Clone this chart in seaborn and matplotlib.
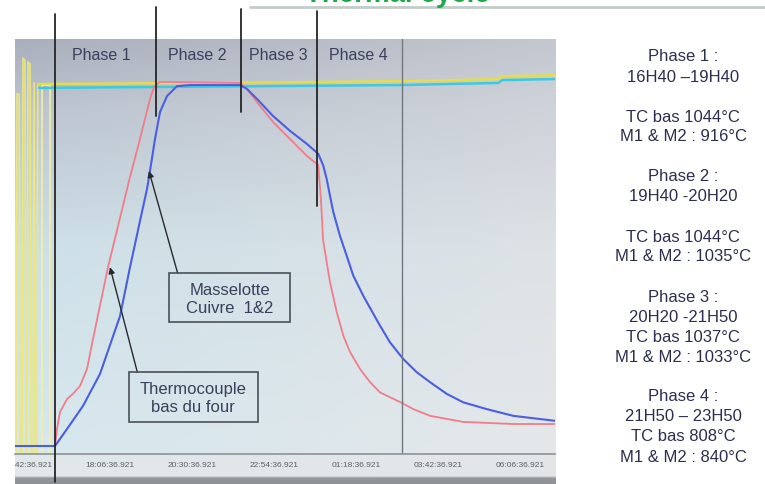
import numpy as np
import pandas as pd
import matplotlib
matplotlib.use("Agg")
import matplotlib.pyplot as plt
from matplotlib.patches import Rectangle
from matplotlib.lines import Line2D
import seaborn as sns

# ---- time axis: hours counted from midnight of the first day (>24 = next day)
tick_hours = [15.7103, 18.1103, 20.5103, 22.9103, 25.3103, 27.7103, 30.1103]
tick_labels = ["15:42:36.921", "18:06:36.921", "20:30:36.921", "22:54:36.921",
               "01:18:36.921", "03:42:36.921", "06:06:36.921"]

# ---- thermocouple at the bottom of the furnace (°C)
four_t = [15.33, 16.500, 16.559, 16.647, 16.852, 17.027, 17.232, 17.437, 17.612,
          18.052, 18.696, 18.988, 19.281, 19.398, 19.574, 21.915, 22.120, 22.413,
          22.880, 23.378, 23.875, 24.160, 24.206, 24.235, 24.276, 24.305, 24.343,
          24.451, 24.548, 24.744, 24.937, 25.134, 25.427, 25.719, 26.012, 26.597,
          26.986, 27.475, 28.441, 29.904, 31.133]
four_T = [20, 20, 68, 116, 152, 167, 189, 237, 321,
          524, 778, 885, 998, 1032, 1046, 1043, 1026, 989,
          933, 885, 837, 815, 812, 772, 725, 679, 603,
          538, 482, 398, 331, 285, 237, 200, 171, 144,
          124, 105, 88, 82, 82]

# ---- copper feeders M1 & M2 (°C)
cuivre_t = [15.33, 16.500, 16.852, 17.320, 17.817, 18.403, 18.696, 18.988, 19.193,
            19.281, 19.427, 19.574, 19.778, 20.071, 20.452, 21.915, 22.120, 22.413,
            22.880, 23.378, 23.875, 24.206, 24.352, 24.452, 24.548, 24.645, 24.841,
            25.037, 25.230, 25.523, 26.012, 26.304, 26.694, 27.086, 27.475, 27.964,
            28.449, 29.134, 29.913, 31.133]
cuivre_T = [20, 20, 68, 133, 223, 386, 524, 654, 744,
            795, 885, 961, 1006, 1034, 1037, 1037, 1026, 998,
            950, 908, 871, 843, 810, 772, 725, 679, 612,
            556, 500, 443, 359, 312, 265, 228, 200, 167,
            143, 124, 105, 91]

# ---- furnace set-point / control traces
consigne_t = [15.36, 15.39, 15.45, 15.48, 15.535, 15.565, 15.62, 15.65, 15.68,
              15.71, 15.77, 15.80, 15.86, 15.89, 15.92, 15.97, 16.00, 20.74,
              26.60, 29.47, 29.59, 31.133]
consigne_T = [0, 1012, 1012, 0, 0, 1113, 1107, 0, 0,
              1102, 1096, 0, 0, 1043, 0, 0, 1040, 1043,
              1048, 1054, 1062, 1065]
regul_t = [16.03, 26.60, 29.47, 29.59, 31.133]
regul_T = [1029, 1037, 1043, 1051, 1054]
pulse_t = [16.12, 16.12, 16.16, 16.35, 16.35]
pulse_T = [0, 1037, 1037, 1037, 0]

# ---- phases
phase_bounds = [16.50, 19.45, 21.93, 24.18]
phase_line_top = [1.060, 1.077, 1.072, 1.067]
phase_line_bottom = [-0.067, 0.814, 0.824, 0.598]
phase_names = ["Phase 1", "Phase 2", "Phase 3", "Phase 4"]
phase_label_t = [17.87, 20.66, 23.03, 25.37]
cursor_t = 26.67

summary_lines = ["Phase 1 :", "16H40 \u201319H40", "TC bas 1044°C", "M1 & M2 : 916°C",
                 "Phase 2 :", "19H40 -20H20", "TC bas 1044°C", "M1 & M2 : 1035°C",
                 "Phase 3 :", "20H20 -21H50", "TC bas 1037°C", "M1 & M2 : 1033°C",
                 "Phase 4 :", "21H50 \u2013 23H50", "TC bas 808°C", "M1 & M2 : 840°C"]
summary_y = [56.7, 77.3, 117.3, 136.7, 176.7, 196.7, 237.3, 256.7,
             297.3, 317.3, 337.3, 357.3, 396.7, 416.7, 436.7, 457.3]

sns.set_style("white")
plt.rcParams["font.family"] = ["Liberation Sans", "DejaVu Sans"]

W, H = 765, 485
fig = plt.figure(figsize=(W / 100, H / 100), dpi=100)
fig.patch.set_facecolor("white")


def fx(px):
    return px / W


def fy(py):
    return 1 - py / H


# ---- screen background (gradient)
def hexrgb(h):
    return np.array([int(h[i:i + 2], 16) for i in (1, 3, 5)]) / 255.0


rows = np.array([40, 110, 250, 455, 456, 477, 479, 485], dtype=float)
left_cols = ["#a9aebb", "#bcc5d0", "#cde0e8", "#d6e8ee", "#e1e7ea", "#e3e8ea", "#95989c", "#8c8f93"]
right_cols = ["#c3c7cf", "#cfd3da", "#dde2e6", "#e5e8ea", "#e3e6e8", "#e3e6e8", "#95989c", "#8c8f93"]
ys = np.arange(40, 485) + 0.5
Lc = np.stack([np.interp(ys, rows, [hexrgb(c)[k] for c in left_cols]) for k in range(3)], axis=1)
Rc = np.stack([np.interp(ys, rows, [hexrgb(c)[k] for c in right_cols]) for k in range(3)], axis=1)
wx = np.linspace(0, 1, 540)[None, :, None]
img = Lc[:, None, :] * (1 - wx) + Rc[:, None, :] * wx

bg_ax = fig.add_axes([fx(15), 0, fx(540), 1 - 40 / H])
bg_ax.imshow(img, aspect="auto", extent=(0, 1, 0, 1))
bg_ax.set_xlim(0, 1)
bg_ax.set_ylim(0, 1)
bg_ax.axis("off")

# ---- main chart
ax = fig.add_axes([fx(15), fy(455), fx(540), 415 / H])
ax.set_facecolor("none")
ax.set_xlim(15.33, 31.133)
ax.set_ylim(-2.5, 1166.8)

sns.lineplot(x=pulse_t, y=pulse_T, ax=ax, color="#f3efa0", lw=1.2, sort=False, estimator=None)
sns.lineplot(x=consigne_t[:17], y=consigne_T[:17], ax=ax, color="#eee878", lw=1.1,
             sort=False, estimator=None)
sns.lineplot(x=consigne_t[16:], y=consigne_T[16:], ax=ax, color="#e8df3e", lw=1.6,
             sort=False, estimator=None)
sns.lineplot(x=regul_t, y=regul_T, ax=ax, color="#3ec9de", lw=1.8, sort=False, estimator=None)
sns.lineplot(x=four_t, y=four_T, ax=ax, color="#f07d88", lw=1.3, sort=False, estimator=None)
sns.lineplot(x=cuivre_t, y=cuivre_T, ax=ax, color="#4a5fe0", lw=1.5, sort=False, estimator=None)

ax.axvline(cursor_t, color="#6f777f", lw=1)

for t, top, bot in zip(phase_bounds, phase_line_top, phase_line_bottom):
    ax.axvline(t, ymin=bot, ymax=top, color="#262628", lw=1.3, clip_on=False, zorder=5)

for name, t in zip(phase_names, phase_label_t):
    ax.text(t, 1122, name, ha="center", va="center", fontsize=11.5, color="#3c4060")

# annotation boxes
ax.add_patch(Rectangle((19.85, 369), 23.38 - 19.85, 507 - 369, fill=False,
                       edgecolor="#4a5058", lw=1.2, zorder=4))
ax.text(21.62, 437, "Masselotte\nCuivre  1&2", ha="center", va="center",
        fontsize=12, color="#3a3f5c", linespacing=1.25)
ax.annotate("", xy=(19.25, 795), xytext=(20.09, 507),
            arrowprops=dict(arrowstyle="-|>", color="#2a2a2c", lw=1,
                            mutation_scale=9, shrinkA=0, shrinkB=0))

ax.add_patch(Rectangle((18.67, 88), 22.43 - 18.67, 228 - 88, fill=False,
                       edgecolor="#4a5058", lw=1.2, zorder=4))
ax.text(20.55, 158, "Thermocouple\nbas du four", ha="center", va="center",
        fontsize=12, color="#3a3f5c", linespacing=1.25)
ax.annotate("", xy=(18.11, 524), xytext=(18.91, 228),
            arrowprops=dict(arrowstyle="-|>", color="#2a2a2c", lw=1,
                            mutation_scale=9, shrinkA=0, shrinkB=0))

# axis styling
for side in ("top", "left", "right"):
    ax.spines[side].set_visible(False)
ax.spines["bottom"].set_color("#8c9298")
ax.spines["bottom"].set_linewidth(1.2)
ax.set_yticks([])
ax.set_xticks(tick_hours)
ax.set_xticklabels(tick_labels)
ax.tick_params(axis="x", length=0, pad=5, labelsize=6, labelcolor="#5c6068")
for lbl in ax.get_xticklabels():
    lbl.set_clip_box(bg_ax.bbox)
    lbl.set_clip_on(True)
ax.set_xlabel("")
ax.set_ylabel("")

# ---- slide title and rule
fig.text(fx(397), fy(1.5), "Thermal cycle", ha="center", va="baseline",
         fontsize=20, fontweight="bold", color="#1fa84a")
fig.add_artist(Line2D([fx(250), 1], [fy(7.5), fy(7.5)], color="#c4ccc8", lw=2))

# ---- phase summary
for txt, y in zip(summary_lines, summary_y):
    fig.text(fx(683), fy(y), txt, ha="center", va="center", fontsize=12, color="#2b2e4f")

fig.savefig("out.png", dpi=100)
